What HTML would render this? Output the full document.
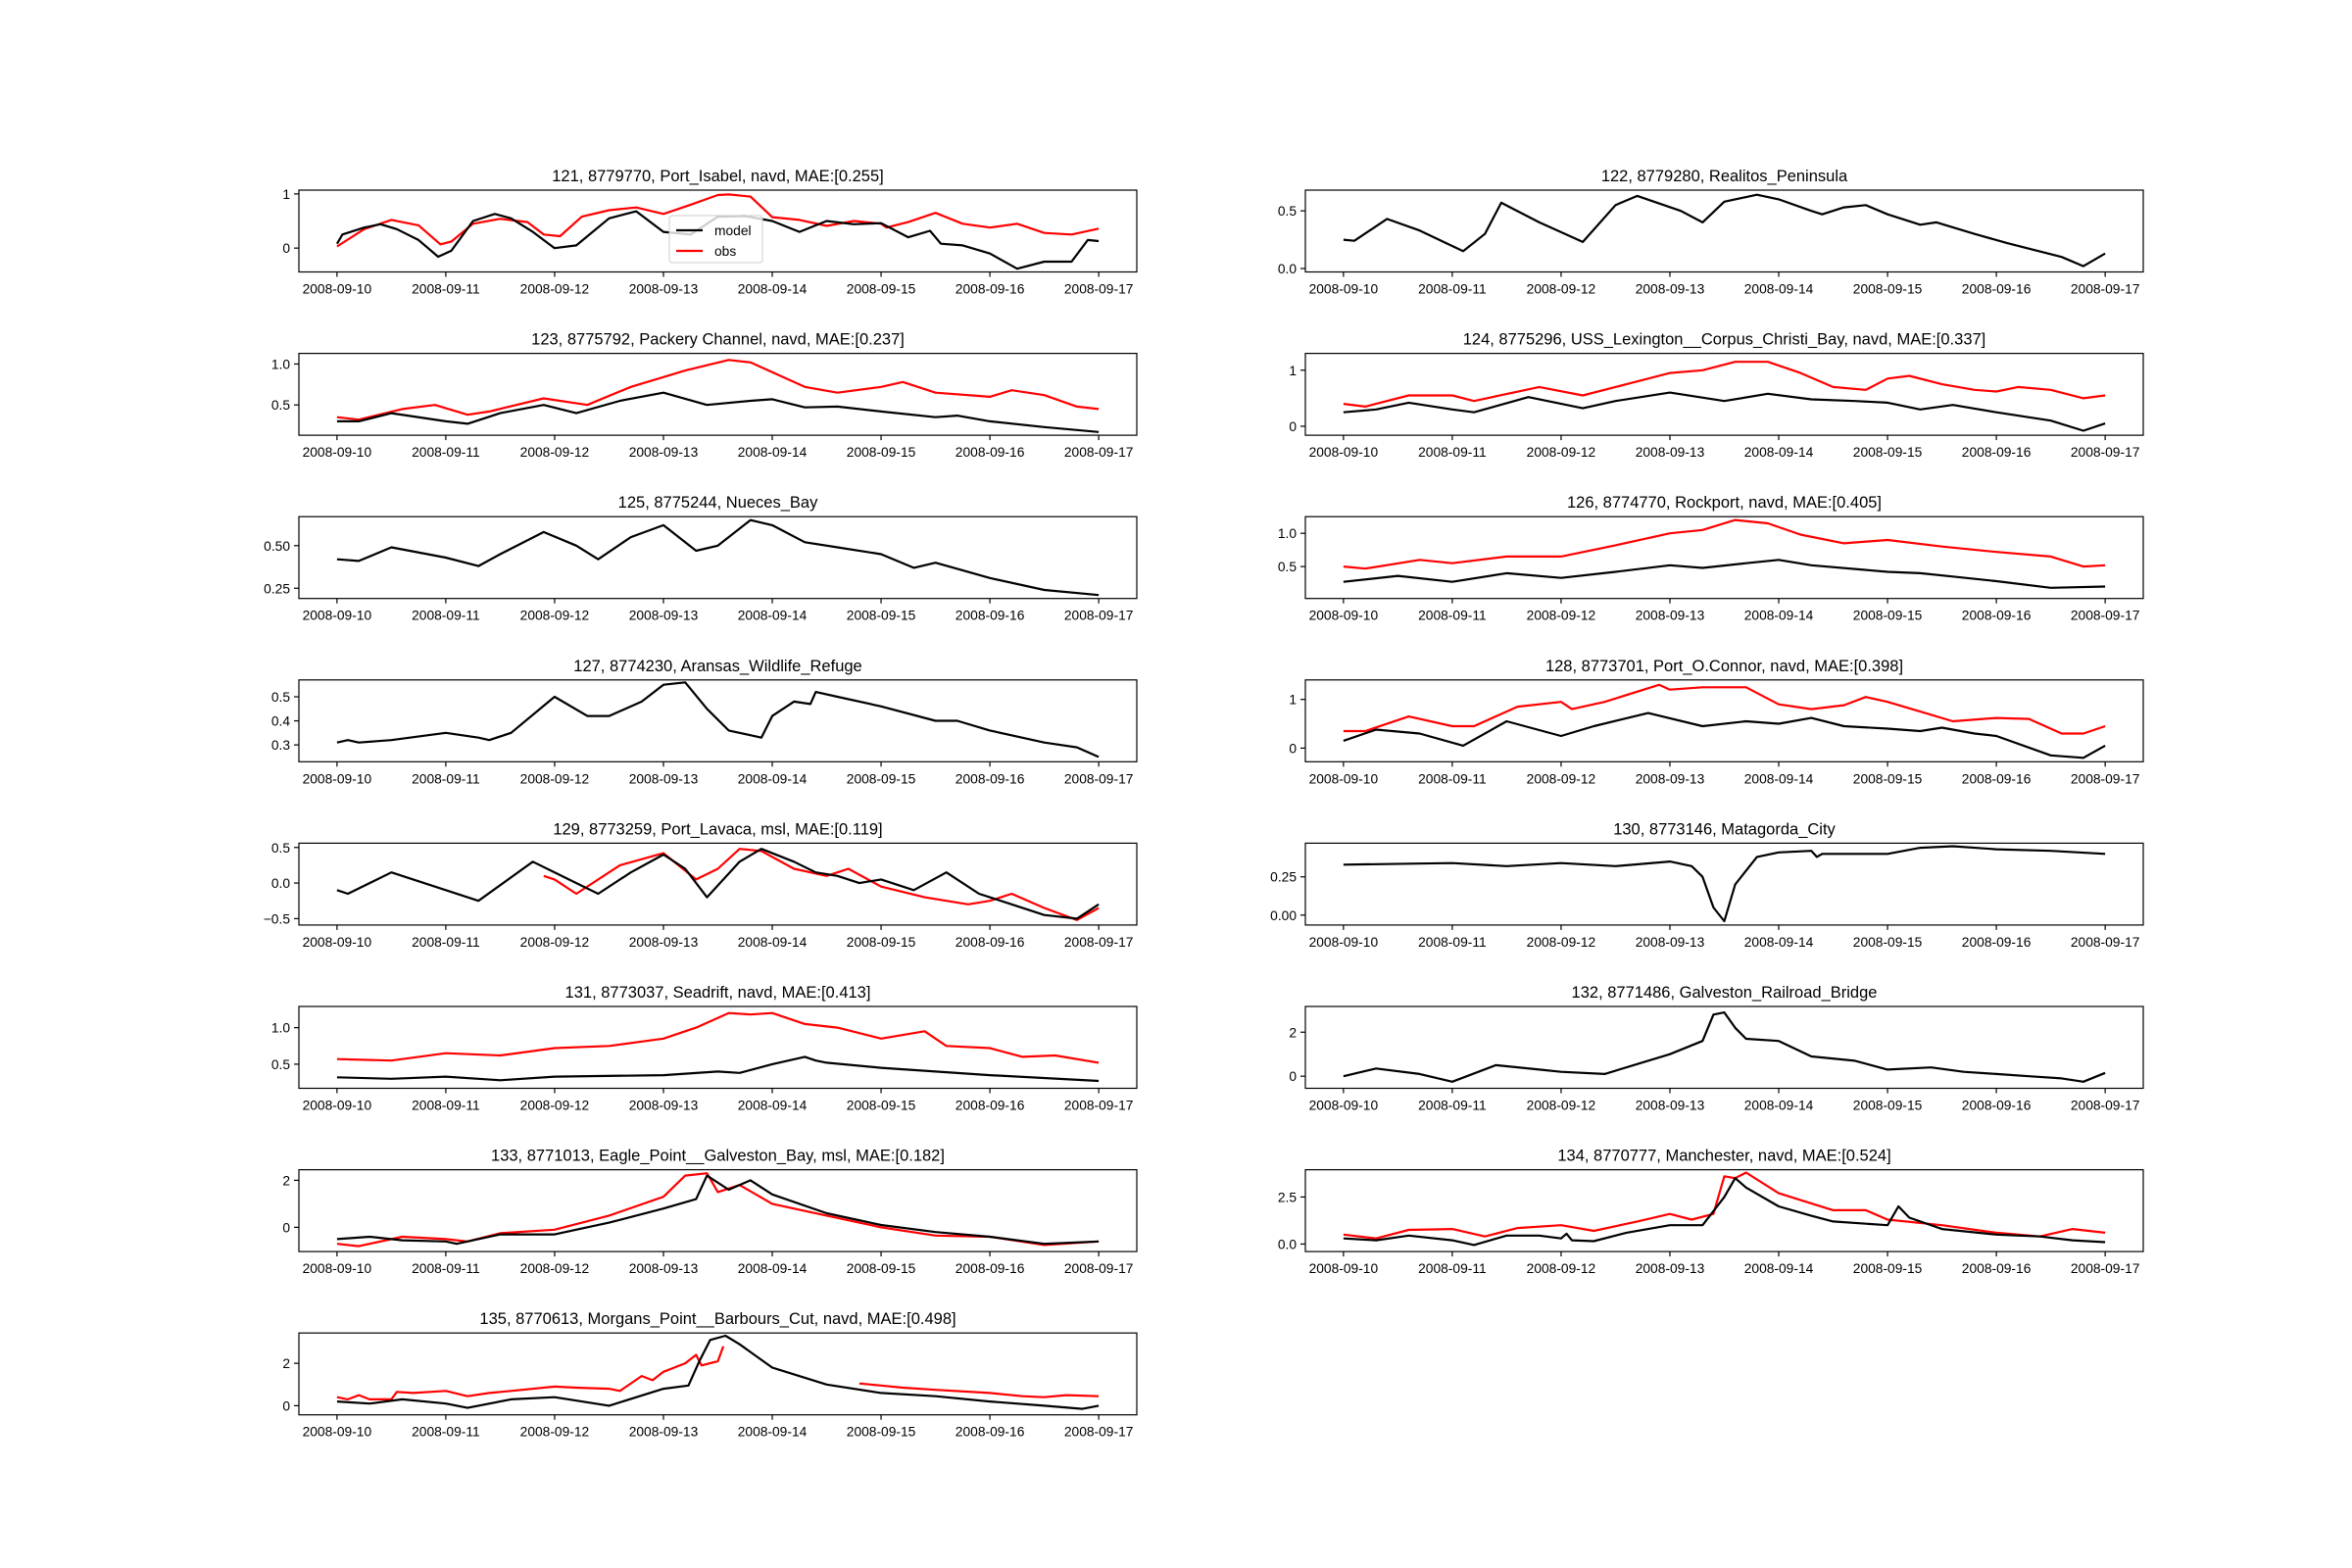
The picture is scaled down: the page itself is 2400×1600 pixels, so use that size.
<!DOCTYPE html>
<html><head><meta charset="utf-8">
<style>
html,body{margin:0;padding:0;background:#fff;}
svg{display:block;font-family:"Liberation Sans","DejaVu Sans",sans-serif;}
</style></head>
<body>
<svg id="fig" width="2400" height="1600" viewBox="0 0 2400 1600" xmlns="http://www.w3.org/2000/svg"></svg>
<script>
const dateLabels=["2008-09-10","2008-09-11","2008-09-12","2008-09-13","2008-09-14","2008-09-15","2008-09-16","2008-09-17"];
const titles=["121, 8779770, Port_Isabel, navd, MAE:[0.255]","122, 8779280, Realitos_Peninsula","123, 8775792, Packery Channel, navd, MAE:[0.237]","124, 8775296, USS_Lexington__Corpus_Christi_Bay, navd, MAE:[0.337]","125, 8775244, Nueces_Bay","126, 8774770, Rockport, navd, MAE:[0.405]","127, 8774230, Aransas_Wildlife_Refuge","128, 8773701, Port_O.Connor, navd, MAE:[0.398]","129, 8773259, Port_Lavaca, msl, MAE:[0.119]","130, 8773146, Matagorda_City","131, 8773037, Seadrift, navd, MAE:[0.413]","132, 8771486, Galveston_Railroad_Bridge","133, 8771013, Eagle_Point__Galveston_Bay, msl, MAE:[0.182]","134, 8770777, Manchester, navd, MAE:[0.524]","135, 8770613, Morgans_Point__Barbours_Cut, navd, MAE:[0.498]"];
const yLims=[[-0.44,1.07],[-0.03,0.68],[0.13,1.13],[-0.16,1.3],[0.19,0.67],[0.02,1.25],[0.23,0.57],[-0.28,1.4],[-0.59,0.56],[-0.065,0.47],[0.17,1.29],[-0.55,3.17],[-1.03,2.45],[-0.4,3.95],[-0.43,3.43]];
const yTicks=[[0,1],[0,0.5],[0.5,1.0],[0,1],[0.25,0.5],[0.5,1.0],[0.3,0.4,0.5],[0,1],[-0.5,0,0.5],[0,0.25],[0.5,1.0],[0,2],[0,2],[0,2.5],[0,2]];
const yTickLabels=[["0","1"],["0.0","0.5"],["0.5","1.0"],["0","1"],["0.25","0.50"],["0.5","1.0"],["0.3","0.4","0.5"],["0","1"],["\u22120.5","0.0","0.5"],["0.00","0.25"],["0.5","1.0"],["0","2"],["0","2"],["0.0","2.5"],["0","2"]];

const t121m=[0,0.05,0.25,0.4,0.55,0.75,0.93,1.05,1.25,1.45,1.6,1.8,2.0,2.2,2.5,2.75,3.0,3.25,3.5,3.75,4.0,4.25,4.5,4.75,5.0,5.25,5.45,5.55,5.75,6.0,6.25,6.5,6.75,6.9,7.0];
const v121m=[0.08,0.25,0.38,0.44,0.35,0.15,-0.16,-0.05,0.5,0.63,0.55,0.3,0.0,0.05,0.55,0.68,0.3,0.25,0.58,0.59,0.5,0.3,0.5,0.44,0.46,0.2,0.32,0.08,0.05,-0.1,-0.38,-0.25,-0.25,0.15,0.13];
const t121o=[0,0.25,0.5,0.75,0.95,1.05,1.25,1.5,1.75,1.9,2.05,2.25,2.5,2.75,3.0,3.25,3.5,3.6,3.8,4.0,4.25,4.5,4.75,5.0,5.05,5.25,5.5,5.75,6.0,6.25,6.5,6.75,7.0];
const v121o=[0.03,0.35,0.52,0.42,0.07,0.12,0.45,0.54,0.48,0.25,0.22,0.58,0.7,0.75,0.63,0.8,0.98,0.99,0.95,0.57,0.52,0.41,0.5,0.45,0.38,0.48,0.65,0.45,0.38,0.45,0.28,0.25,0.36];
const t122m=[0,0.1,0.4,0.7,1.1,1.3,1.45,1.8,2.2,2.5,2.7,3.1,3.3,3.5,3.8,4.0,4.3,4.4,4.6,4.8,5.0,5.3,5.45,5.8,6.1,6.6,6.8,7.0];
const v122m=[0.25,0.24,0.43,0.33,0.15,0.3,0.57,0.4,0.23,0.55,0.63,0.5,0.4,0.58,0.64,0.6,0.5,0.47,0.53,0.55,0.47,0.38,0.4,0.3,0.22,0.1,0.02,0.13];
const t123m=[0,0.2,0.5,1.0,1.2,1.5,1.9,2.2,2.6,3.0,3.4,3.8,4.0,4.3,4.6,5.0,5.5,5.7,6.0,6.5,7.0];
const v123m=[0.3,0.3,0.4,0.3,0.27,0.4,0.5,0.4,0.55,0.65,0.5,0.55,0.57,0.47,0.48,0.42,0.35,0.37,0.3,0.23,0.17];
const t123o=[0,0.2,0.6,0.9,1.2,1.4,1.9,2.3,2.7,3.2,3.6,3.8,4.3,4.6,5.0,5.2,5.5,6.0,6.2,6.5,6.8,7.0];
const v123o=[0.35,0.32,0.45,0.5,0.38,0.42,0.58,0.5,0.72,0.92,1.05,1.02,0.72,0.65,0.72,0.78,0.65,0.6,0.68,0.62,0.48,0.45];
const t124m=[0,0.3,0.6,1.0,1.2,1.7,2.2,2.5,3.0,3.5,3.9,4.3,4.7,5.0,5.3,5.6,6.0,6.5,6.8,7.0];
const v124m=[0.25,0.3,0.42,0.3,0.25,0.52,0.32,0.45,0.6,0.45,0.58,0.48,0.45,0.42,0.3,0.38,0.25,0.1,-0.08,0.05];
const t124o=[0,0.2,0.6,1.0,1.2,1.8,2.2,2.6,3.0,3.3,3.6,3.9,4.2,4.5,4.8,5.0,5.2,5.5,5.8,6.0,6.2,6.5,6.8,7.0];
const v124o=[0.4,0.35,0.55,0.55,0.45,0.7,0.55,0.75,0.95,1.0,1.15,1.15,0.95,0.7,0.65,0.85,0.9,0.75,0.65,0.62,0.7,0.65,0.5,0.55];
const t125m=[0,0.2,0.5,1.0,1.3,1.5,1.9,2.2,2.4,2.7,3.0,3.3,3.5,3.8,4.0,4.3,4.6,5.0,5.3,5.5,6.0,6.5,7.0];
const v125m=[0.42,0.41,0.49,0.43,0.38,0.45,0.58,0.5,0.42,0.55,0.62,0.47,0.5,0.65,0.62,0.52,0.49,0.45,0.37,0.4,0.31,0.24,0.21];
const t126m=[0,0.5,1.0,1.5,2.0,2.5,3.0,3.3,3.7,4.0,4.3,5.0,5.3,5.6,6.0,6.5,7.0];
const v126m=[0.27,0.36,0.27,0.4,0.33,0.42,0.52,0.48,0.55,0.6,0.52,0.42,0.4,0.35,0.28,0.18,0.2];
const t126o=[0,0.2,0.7,1.0,1.5,2.0,2.5,3.0,3.3,3.6,3.9,4.2,4.6,5.0,5.5,6.0,6.5,6.8,7.0];
const v126o=[0.5,0.47,0.6,0.55,0.65,0.65,0.82,1.0,1.05,1.2,1.15,0.98,0.85,0.9,0.8,0.72,0.65,0.5,0.52];
const t127m=[0,0.1,0.2,0.5,1.0,1.3,1.4,1.6,2.0,2.3,2.5,2.8,3.0,3.2,3.4,3.6,3.9,4.0,4.2,4.35,4.4,4.6,5.0,5.5,5.7,6.0,6.5,6.8,7.0];
const v127m=[0.31,0.32,0.31,0.32,0.35,0.33,0.32,0.35,0.5,0.42,0.42,0.48,0.55,0.56,0.45,0.36,0.33,0.42,0.48,0.47,0.52,0.5,0.46,0.4,0.4,0.36,0.31,0.29,0.25];
const t128m=[0,0.3,0.7,1.1,1.5,2.0,2.3,2.8,3.3,3.7,4.0,4.3,4.6,5.0,5.3,5.5,5.8,6.0,6.5,6.8,7.0];
const v128m=[0.15,0.38,0.3,0.05,0.55,0.25,0.45,0.72,0.45,0.55,0.5,0.62,0.45,0.4,0.35,0.42,0.3,0.25,-0.15,-0.2,0.05];
const t128o=[0,0.2,0.6,1.0,1.2,1.6,2.0,2.1,2.4,2.9,3.0,3.3,3.7,4.0,4.3,4.6,4.8,5.0,5.3,5.6,6.0,6.3,6.6,6.8,7.0];
const v128o=[0.35,0.35,0.65,0.45,0.45,0.85,0.95,0.8,0.95,1.3,1.2,1.25,1.25,0.9,0.8,0.88,1.05,0.95,0.75,0.55,0.62,0.6,0.3,0.3,0.45];
const t129m=[0,0.1,0.5,1.0,1.3,1.8,2.2,2.4,2.7,3.0,3.2,3.4,3.7,3.9,4.2,4.4,4.6,4.8,5.0,5.3,5.6,5.9,6.2,6.5,6.8,7.0];
const v129m=[-0.1,-0.15,0.15,-0.1,-0.25,0.3,0.0,-0.15,0.15,0.4,0.2,-0.2,0.3,0.48,0.3,0.15,0.1,0.0,0.05,-0.1,0.15,-0.15,-0.3,-0.45,-0.5,-0.3];
const t129o=[1.9,2.0,2.2,2.6,3.0,3.3,3.5,3.7,3.9,4.2,4.5,4.7,5.0,5.4,5.8,6.0,6.2,6.5,6.8,7.0];
const v129o=[0.1,0.05,-0.15,0.25,0.42,0.05,0.2,0.48,0.45,0.2,0.1,0.2,-0.05,-0.2,-0.3,-0.25,-0.15,-0.35,-0.52,-0.35];
const t130m=[0,1.0,1.5,2.0,2.5,3.0,3.2,3.3,3.4,3.5,3.6,3.8,4.0,4.3,4.35,4.4,5.0,5.3,5.6,6.0,6.5,7.0];
const v130m=[0.33,0.34,0.32,0.34,0.32,0.35,0.32,0.25,0.05,-0.04,0.2,0.38,0.41,0.42,0.38,0.4,0.4,0.44,0.45,0.43,0.42,0.4];
const t131m=[0,0.5,1.0,1.5,2.0,3.0,3.5,3.7,4.0,4.3,4.4,4.5,5.0,6.0,7.0];
const v131m=[0.32,0.3,0.33,0.28,0.33,0.35,0.4,0.38,0.5,0.6,0.55,0.52,0.45,0.35,0.27];
const t131o=[0,0.5,1.0,1.5,2.0,2.5,3.0,3.3,3.6,3.8,4.0,4.3,4.6,5.0,5.4,5.6,6.0,6.3,6.6,7.0];
const v131o=[0.57,0.55,0.65,0.62,0.72,0.75,0.85,1.0,1.2,1.18,1.2,1.05,1.0,0.85,0.95,0.75,0.72,0.6,0.62,0.52];
const t132m=[0,0.3,0.7,1.0,1.4,1.8,2.0,2.4,3.0,3.3,3.4,3.5,3.6,3.7,4.0,4.3,4.7,5.0,5.4,5.7,6.0,6.3,6.6,6.8,7.0];
const v132m=[0.0,0.35,0.1,-0.25,0.5,0.3,0.2,0.1,1.0,1.6,2.8,2.9,2.2,1.7,1.6,0.9,0.7,0.3,0.4,0.2,0.1,0.0,-0.1,-0.25,0.15];
const t133m=[0,0.3,0.6,1.0,1.1,1.5,2.0,2.5,3.0,3.3,3.4,3.6,3.8,4.0,4.5,5.0,5.5,6.0,6.5,7.0];
const v133m=[-0.5,-0.4,-0.55,-0.6,-0.7,-0.3,-0.3,0.2,0.8,1.2,2.2,1.6,2.0,1.4,0.6,0.1,-0.2,-0.4,-0.7,-0.6];
const t133o=[0,0.2,0.6,1.0,1.2,1.5,2.0,2.5,3.0,3.2,3.4,3.5,3.7,4.0,4.5,5.0,5.5,6.0,6.5,7.0];
const v133o=[-0.7,-0.8,-0.4,-0.5,-0.6,-0.25,-0.1,0.5,1.3,2.2,2.3,1.5,1.8,1.0,0.5,0.0,-0.35,-0.4,-0.75,-0.6];
const t134m=[0,0.3,0.6,1.0,1.2,1.5,1.8,2.0,2.05,2.1,2.3,2.6,3.0,3.3,3.5,3.6,3.7,4.0,4.3,4.5,5.0,5.1,5.2,5.5,6.0,6.4,6.7,7.0];
const v134m=[0.3,0.2,0.45,0.2,-0.05,0.45,0.45,0.3,0.55,0.2,0.15,0.6,1.0,1.0,2.5,3.5,3.0,2.0,1.5,1.2,1.0,2.0,1.4,0.8,0.5,0.4,0.2,0.1];
const t134o=[0,0.3,0.6,1.0,1.3,1.6,2.0,2.3,2.7,3.0,3.2,3.4,3.5,3.6,3.7,4.0,4.5,4.8,5.0,5.5,6.0,6.4,6.7,7.0];
const v134o=[0.5,0.3,0.75,0.8,0.4,0.85,1.0,0.7,1.2,1.6,1.3,1.6,3.6,3.5,3.8,2.7,1.8,1.8,1.3,1.0,0.6,0.4,0.8,0.6];
const t135m=[0,0.3,0.6,1.0,1.2,1.6,2.0,2.5,3.0,3.23,3.33,3.43,3.57,3.7,4.0,4.5,5.0,5.5,6.0,6.5,6.85,7.0];
const v135m=[0.2,0.1,0.3,0.1,-0.1,0.3,0.4,0.0,0.8,0.95,2.1,3.1,3.3,2.9,1.8,1.0,0.6,0.45,0.2,0.0,-0.15,0.0];
const t135o=[0,0.1,0.2,0.3,0.5,0.55,0.7,1.0,1.2,1.4,1.6,2.0,2.2,2.5,2.6,2.8,2.9,3.0,3.2,3.3,3.35,3.5,3.55,4.8,5.0,5.2,5.5,6.0,6.3,6.5,6.7,7.0];
const v135o=[0.4,0.3,0.5,0.3,0.3,0.65,0.6,0.7,0.45,0.6,0.7,0.9,0.85,0.8,0.7,1.4,1.2,1.6,2.0,2.4,1.9,2.1,2.8,1.05,0.95,0.85,0.75,0.6,0.45,0.4,0.5,0.45];

const modelT=[t121m,t122m,t123m,t124m,t125m,t126m,t127m,t128m,t129m,t130m,t131m,t132m,t133m,t134m,t135m];
const modelV=[v121m,v122m,v123m,v124m,v125m,v126m,v127m,v128m,v129m,v130m,v131m,v132m,v133m,v134m,v135m];
const obsT=[t121o,null,t123o,t124o,null,t126o,null,t128o,t129o,null,t131o,null,t133o,t134o,t135o];
const obsV=[v121o,null,v123o,v124o,null,v126o,null,v128o,v129o,null,v131o,null,v133o,v134o,v135o];

const NS="http://www.w3.org/2000/svg";
const svg=document.getElementById('fig');
function mk(tag,attrs,parent){const e=document.createElementNS(NS,tag);for(const k in attrs)e.setAttribute(k,attrs[k]);(parent||svg).appendChild(e);return e;}

const colX=[305,1332], AW=855, AH=83.5, TOP0=194, PITCH=166.6;
titles.forEach((title,i)=>{
  const col=i%2,row=Math.floor(i/2);
  const x0=colX[col], y0=TOP0+row*PITCH;
  const g=mk('g',{});
  
  
  const xs=d=>x0+(d+0.35)/7.7*AW;
  const [lo,hi]=yLims[i];
  const ys=v=>y0+AH-(v-lo)/(hi-lo)*AH;
  const tt=mk('text',{x:x0+AW/2,y:y0-9,'text-anchor':'middle','font-size':'16.5',fill:'#000'},g);
  tt.textContent=title;
  
  
  dateLabels.forEach((lab,d)=>{
    const x=xs(d);
    mk('line',{x1:x,x2:x,y1:y0+AH,y2:y0+AH+5,stroke:'#000','stroke-width':1.2},g);
    const t=mk('text',{x:x,y:y0+AH+22,'text-anchor':'middle','font-size':'13.8',fill:'#000'},g);
    t.textContent=lab;
    
    
  });
  yTicks[i].forEach((v,k)=>{
    const y=ys(v);
    mk('line',{x1:x0-5,x2:x0,y1:y,y2:y,stroke:'#000','stroke-width':1.2},g);
    const t=mk('text',{x:x0-9,y:y+5,'text-anchor':'end','font-size':'13.8',fill:'#000'},g);
    t.textContent=yTickLabels[i][k];
    
    
  });
  const clipId='clip'+i;
  const cp=mk('clipPath',{id:clipId},g);
  mk('rect',{x:x0,y:y0,width:AW,height:AH},cp);
  function draw(T,V,color,name){
    if(!T||!T.length)return;
    let d='';
    T.forEach((t,k)=>{d+=(k?'L':'M')+xs(t).toFixed(1)+' '+ys(V[k]).toFixed(1);});
    const p=mk('path',{d:d,fill:'none',stroke:color,'stroke-width':2.2,'stroke-linejoin':'round','clip-path':'url(#'+clipId+')'},g);
    
    
    return p;
  }
  if(obsT[i]){
    const T=obsT[i],V=obsV[i];let segT=[],segV=[];
    for(let k=0;k<T.length;k++){
      if(k>0 && T[k]-T[k-1]>1.0){draw(segT,segV,'#ff0000','obs-line');segT=[];segV=[];}
      segT.push(T[k]);segV.push(V[k]);
    }
    draw(segT,segV,'#ff0000','obs-line');
  }
  draw(modelT[i],modelV[i],'#000000','model-line');
  const fr=mk('rect',{x:x0,y:y0,width:AW,height:AH,fill:'none',stroke:'#000','stroke-width':1.2},g);
  
  
  if(i===0){
    const lg=mk('g',{},g);
    
    
    mk('rect',{x:683,y:220,width:95,height:48,rx:3,fill:'#fff','fill-opacity':0.8,stroke:'#ccc','stroke-width':1},lg);
    mk('line',{x1:690,x2:717,y1:235,y2:235,stroke:'#000','stroke-width':2.2},lg);
    mk('line',{x1:690,x2:717,y1:256,y2:256,stroke:'#f00','stroke-width':2.2},lg);
    const a=mk('text',{x:729,y:240,'font-size':'13.8'},lg);a.textContent='model';
    
    
    const b=mk('text',{x:729,y:261,'font-size':'13.8'},lg);b.textContent='obs';
    
    
  }
});
</script>
</body></html>
